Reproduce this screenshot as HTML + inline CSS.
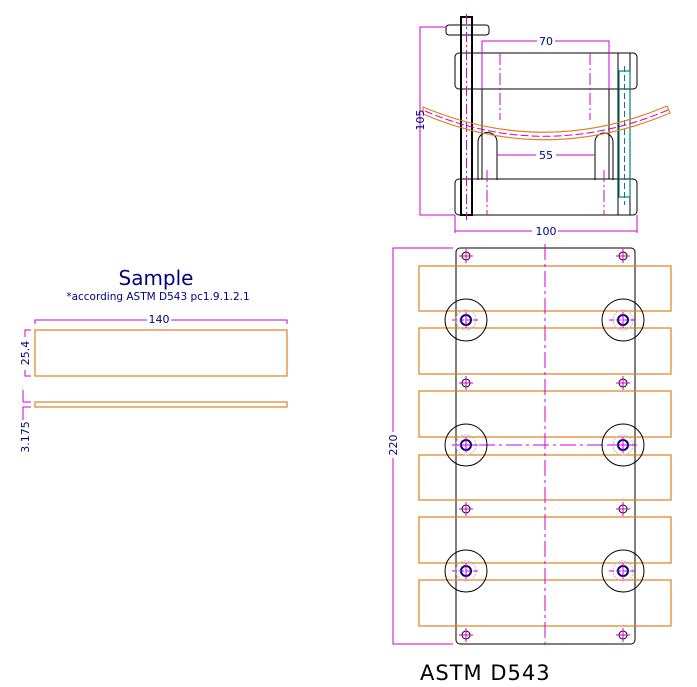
<!DOCTYPE html>
<html><head><meta charset="utf-8"><style>
html,body{margin:0;padding:0;background:#fff;}
svg{display:block;}
text{font-family:"DejaVu Sans","Liberation Sans",sans-serif;}
</style></head><body>
<svg width="697" height="687" viewBox="0 0 697 687" xmlns="http://www.w3.org/2000/svg">
<defs>
<g id="sh"><circle r="4" fill="none" stroke="#000" stroke-width="1"/><line x1="-7" y1="0" x2="7" y2="0" stroke="#d000d0"/><line x1="0" y1="-7" x2="0" y2="7" stroke="#d000d0"/></g>
<g id="bh"><circle r="21" fill="none" stroke="#000" stroke-width="1"/><circle r="10" fill="none" stroke="#bbb" stroke-dasharray="2,1"/><circle r="5" fill="none" stroke="#000080" stroke-width="2"/><line x1="-14" y1="0" x2="14" y2="0" stroke="#d000d0" stroke-dasharray="5,2"/><line x1="0" y1="-8" x2="0" y2="8" stroke="#d000d0"/></g>
</defs>

<!-- ===== TOP VIEW ===== -->
<g fill="none" stroke="#000" stroke-width="1">
<rect x="455" y="53" width="182" height="36" rx="4"/>
<rect x="455" y="179" width="182" height="36" rx="4"/>
<line x1="482" y1="89" x2="482" y2="179"/>
<line x1="609" y1="89" x2="609" y2="179"/>
<path d="M478,180 V142 a9.5,9.5 0 0 1 19,0 V180"/>
<path d="M595,180 V142 a9,9 0 0 1 18,0 V180"/>
<rect x="446" y="25" width="43" height="10" rx="3"/>
<line x1="618" y1="53" x2="618" y2="215"/>
<line x1="630" y1="53" x2="630" y2="215"/>
</g>
<!-- left bolt -->
<rect x="461" y="17" width="11" height="198" fill="none" stroke="#000" stroke-width="2"/>
<line x1="466.5" y1="14" x2="466.5" y2="220" stroke="#d000d0" stroke-dasharray="10,3,2,3"/>
<!-- right rod -->
<rect x="619" y="71" width="11" height="126" fill="none" stroke="#008080" stroke-width="1.2"/>
<line x1="624.5" y1="66" x2="624.5" y2="205" stroke="#008080" stroke-dasharray="6,3"/>
<!-- centerlines -->
<g stroke="#d000d0" stroke-dasharray="12,3,2,3">
<line x1="500" y1="53" x2="500" y2="120"/>
<line x1="590" y1="53" x2="590" y2="120"/>
<line x1="487" y1="170" x2="487" y2="215"/>
<line x1="604" y1="170" x2="604" y2="215"/>
</g>
<!-- curved sample -->
<path d="M423,107 Q545,158 667,106 L670,113 Q545,166 423,114 Z" fill="none" stroke="#e08020" stroke-width="1.2"/>
<path d="M425,111 Q545,162 668,110" fill="none" stroke="#d000d0" stroke-dasharray="8,3"/>
<!-- dims top -->
<g stroke="#d000d0" fill="none">
<path d="M482,89 V41 H537 M555,41 H609 V89"/>
<path d="M497,155 H536 M556,155 H595"/>
<path d="M455,215 V233 M637,215 V233 M455,231 H532 M558,231 H637"/>
<path d="M446,27 H420 V215 H455"/>
</g>
<g fill="#000080" font-size="11" text-anchor="middle">
<text x="546" y="45">70</text>
<text x="546" y="159">55</text>
<text x="546" y="235">100</text>
<text transform="translate(424,120) rotate(-90)">105</text>
</g>

<!-- ===== PLAN VIEW ===== -->
<rect x="456" y="248" width="179" height="396" rx="4" fill="none" stroke="#000"/>
<g fill="none" stroke="#e08020" stroke-width="1.2">
<rect x="419" y="266" width="252" height="45"/>
<rect x="419" y="328" width="252" height="46"/>
<rect x="419" y="391" width="252" height="46"/>
<rect x="419" y="455" width="252" height="45"/>
<rect x="419" y="517" width="252" height="46"/>
<rect x="419" y="580" width="252" height="46"/>
</g>
<line x1="545" y1="244" x2="545" y2="648" stroke="#d000d0" stroke-dasharray="16,4,3,4"/>
<line x1="452" y1="445" x2="638" y2="445" stroke="#d000d0" stroke-dasharray="16,4,3,4"/>
<use href="#sh" x="466" y="256"/><use href="#sh" x="623" y="256"/>
<use href="#sh" x="466" y="383"/><use href="#sh" x="623" y="383"/>
<use href="#sh" x="466" y="509"/><use href="#sh" x="623" y="509"/>
<use href="#sh" x="466" y="635"/><use href="#sh" x="623" y="635"/>
<use href="#bh" x="466" y="320"/><use href="#bh" x="623" y="320"/>
<use href="#bh" x="466" y="445"/><use href="#bh" x="623" y="445"/>
<use href="#bh" x="466" y="571"/><use href="#bh" x="623" y="571"/>
<path d="M453,248 H393 V432 M393,458 V644 H453" fill="none" stroke="#d000d0"/>
<text transform="translate(397,445) rotate(-90)" fill="#000080" font-size="11" text-anchor="middle">220</text>
<text x="420" y="680" fill="#000" font-size="21" letter-spacing="1">ASTM D543</text>

<!-- ===== SAMPLE ===== -->
<text x="156" y="285" fill="#000080" font-size="20" text-anchor="middle">Sample</text>
<text x="158" y="300" fill="#000080" font-size="10.5" text-anchor="middle">*according ASTM D543 pc1.9.1.2.1</text>
<path d="M35,324 V320 H147 M171,320 H287 V324" fill="none" stroke="#d000d0"/>
<text x="159" y="323" fill="#000080" font-size="11" text-anchor="middle">140</text>
<rect x="35" y="330" width="252" height="46" fill="none" stroke="#e08020" stroke-width="1.2"/>
<rect x="35" y="402" width="252" height="5" fill="none" stroke="#e08020" stroke-width="1.2"/>
<path d="M31,330 H25 V337 M25,370 V376 H31" fill="none" stroke="#d000d0"/>
<text transform="translate(29,353) rotate(-90)" fill="#000080" font-size="11" text-anchor="middle">25.4</text>
<path d="M23,390 V402 H31 M31,407 H23 V420" fill="none" stroke="#d000d0"/>
<text transform="translate(29,437) rotate(-90)" fill="#000080" font-size="11" text-anchor="middle">3.175</text>
</svg>
</body></html>
